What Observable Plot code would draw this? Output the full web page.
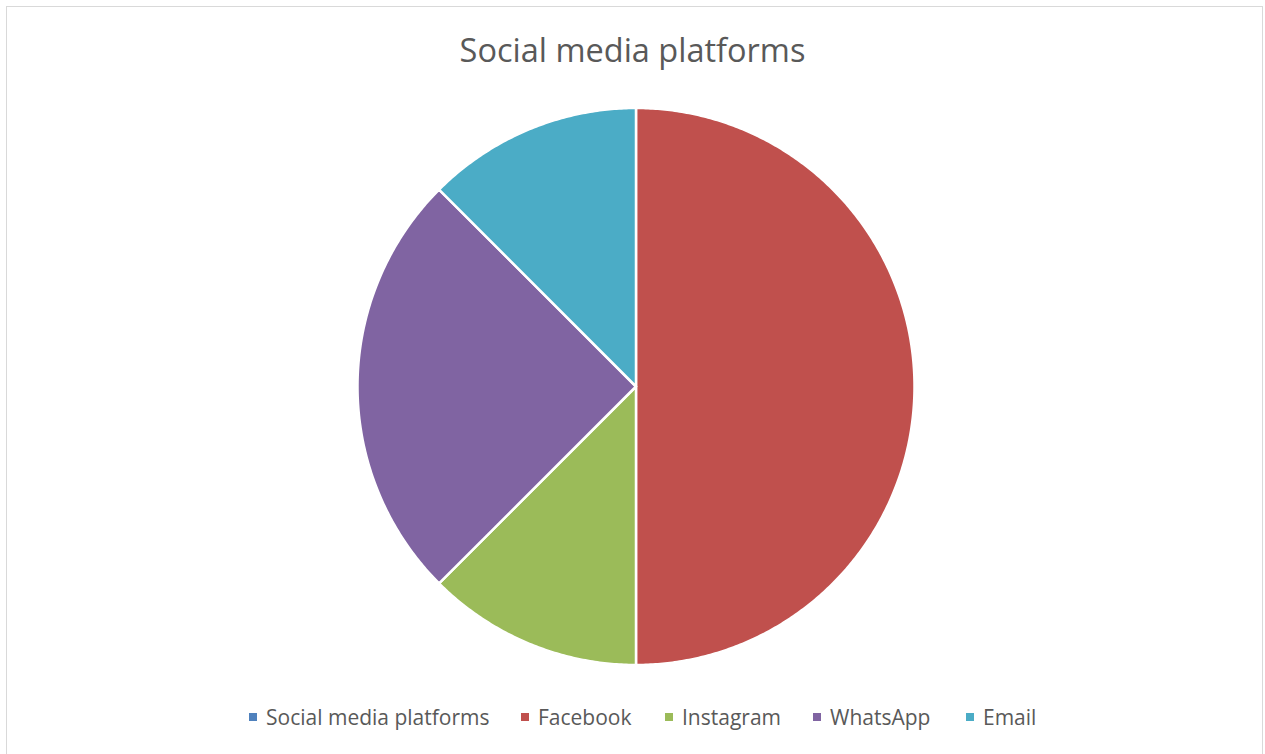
<!DOCTYPE html>
<html>
<head>
<meta charset="utf-8">
<script src="https://cdn.jsdelivr.net/npm/d3@7"></script>
<script src="https://cdn.jsdelivr.net/npm/@observablehq/plot@0.6"></script>
<style>
  html, body { margin: 0; padding: 0; background: #fff; overflow: hidden; width: 1265px; height: 754px; }
  #frame { position: absolute; left: 6px; top: 6px; width: 1257px; height: 800px; border: 1px solid #d9d9d9; box-sizing: border-box; }
  #title { position: absolute; left: 0; top: 28px; width: 1265px; text-align: center; font-family: "Open Sans", sans-serif; font-size: 32.5px; color: #595959; line-height: 44px; }
  #chart { position: absolute; left: 0; top: 90px; }
  #legend { position: absolute; left: 0; top: 702px; width: 1265px; height: 30px; font-family: "Open Sans", sans-serif; font-size: 21px; color: #595959; }
  .item { position: absolute; top: 0; line-height: 30px; white-space: nowrap; }
  .sw { position: absolute; top: 11px; width: 8px; height: 8px; }
</style>
</head>
<body>
<div id="frame"></div>
<div id="title"></div>
<div id="chart"></div>
<div id="legend"></div>
<script>
const title = "Social media platforms";
const categories = ["Social media platforms", "Facebook", "Instagram", "WhatsApp", "Email"];
const values = [0, 4, 1, 2, 1];
const colors = ["#4F81BD", "#C0504D", "#9BBB59", "#8064A2", "#4BACC6"];

document.getElementById("title").textContent = title;

// pie layout (clockwise from 12 o'clock), sampled as closed polygons in unit-circle space
const arcs = d3.pie().sort(null).value(d => d)(values);
const pts = [];
arcs.forEach((a, i) => {
  if (values[i] <= 0) return;
  const name = categories[i];
  pts.push({name, x: 0, y: 0});
  const n = Math.max(2, Math.ceil((a.endAngle - a.startAngle) / (Math.PI / 360)));
  for (let k = 0; k <= n; k++) {
    const t = a.startAngle + (a.endAngle - a.startAngle) * k / n;
    pts.push({name, x: Math.sin(t), y: Math.cos(t)});
  }
});

const W = 1265, H = 592, cx = 635.5, cy = 296, R = 278.5;
const plot = Plot.plot({
  width: W,
  height: H,
  marginLeft: cx - R,
  marginRight: W - (cx + R),
  marginTop: cy - R,
  marginBottom: H - (cy + R),
  x: {domain: [-1, 1], axis: null},
  y: {domain: [-1, 1], axis: null},
  color: {domain: categories, range: colors},
  marks: [
    Plot.line(pts, {x: "x", y: "y", z: "name", fill: "name", stroke: "white", strokeWidth: 2.5, curve: "linear-closed", strokeLinejoin: "round"})
  ]
});
document.getElementById("chart").appendChild(plot);

// legend
const legendX = [249, 521, 665, 813, 966];
const legend = document.getElementById("legend");
categories.forEach((c, i) => {
  const it = document.createElement("div");
  it.className = "item";
  it.style.left = legendX[i] + "px";
  const sw = document.createElement("span");
  sw.className = "sw";
  sw.style.left = "0px";
  sw.style.background = colors[i];
  const tx = document.createElement("span");
  tx.style.marginLeft = "17px";
  tx.textContent = c;
  it.appendChild(sw);
  it.appendChild(tx);
  legend.appendChild(it);
});
</script>
</body>
</html>
